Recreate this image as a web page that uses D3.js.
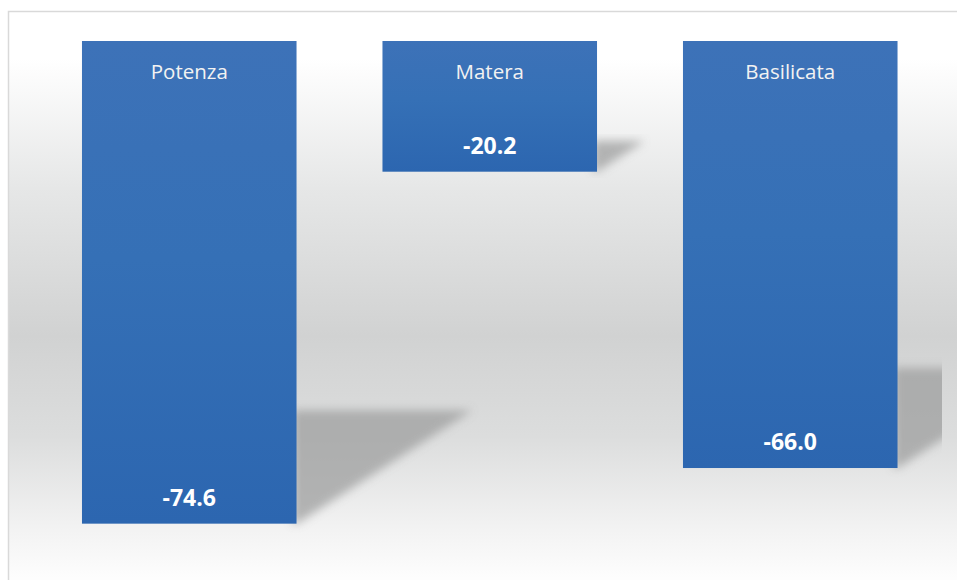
<!DOCTYPE html>
<html>
<head>
<meta charset="utf-8">
<script src="https://cdn.jsdelivr.net/npm/d3@7"></script>
<style>
  body { margin: 0; background: #ffffff; }
  svg { display: block; font-family: "Open Sans", sans-serif; }
</style>
</head>
<body>
<div id="chart"></div>
<script>
// Data
const categories = ["Potenza", "Matera", "Basilicata"];
const values = [-74.6, -20.2, -66.0];

const W = 957, H = 580;
const frame = { x: 8.5, y: 11.5 };
const plot = { left: 32, right: 942, top: 41 };

const svg = d3.select("#chart").append("svg")
  .attr("width", W).attr("height", H);

const defs = svg.append("defs");

// background gradient (white - grey - white)
const bg = defs.append("linearGradient").attr("id", "bg")
  .attr("x1", 0).attr("y1", 0).attr("x2", 0).attr("y2", 1);
[[0, "#ffffff"], [0.08, "#ffffff"], [0.3, "#e6e7e7"], [0.55, "#d1d2d2"], [0.72, "#dcdddd"], [0.88, "#f3f3f3"], [0.96, "#fdfdfd"], [1, "#ffffff"]]
  .forEach(s => bg.append("stop").attr("offset", s[0]).attr("stop-color", s[1]));

// bar gradient
const bar = defs.append("linearGradient").attr("id", "bar")
  .attr("x1", 0).attr("y1", 0).attr("x2", 0).attr("y2", 1);
[[0, "#3d72b8"], [0.45, "#3570b6"], [1, "#2c66b0"]]
  .forEach(s => bar.append("stop").attr("offset", s[0]).attr("stop-color", s[1]));

const blur = defs.append("filter").attr("id", "blur")
  .attr("x", "-20%").attr("y", "-20%").attr("width", "140%").attr("height", "140%");
blur.append("feGaussianBlur").attr("stdDeviation", 5);

defs.append("clipPath").attr("id", "plotclip")
  .append("rect").attr("x", plot.left).attr("y", 0)
  .attr("width", plot.right - plot.left).attr("height", H);

// frame
svg.append("rect")
  .attr("x", frame.x).attr("y", frame.y)
  .attr("width", W + 10).attr("height", H + 10)
  .attr("fill", "url(#bg)")
  .attr("stroke", "#d9d9d9").attr("stroke-width", 1.5);

// scales
const x = d3.scaleBand()
  .domain(categories)
  .range([39, 940.5])
  .paddingInner(0.286)
  .paddingOuter(0.143);

const y = d3.scaleLinear()
  .domain([0, -80])
  .range([plot.top, plot.top + 6.47 * 80]);

// shadows
const shadowG = svg.append("g").attr("clip-path", "url(#plotclip)");
shadowG.selectAll("path")
  .data(values)
  .join("path")
  .attr("d", (v, i) => {
    const r = x(categories[i]) + x.bandwidth();
    const b = y(v);
    const h = (y(v) - y(0)) * 0.235;
    return `M${r - 4},${b - h} L${r + h * 1.55},${b - h} L${r},${b} L${r - 4},${b} Z`;
  })
  .attr("fill", "#9e9f9f")
  .attr("opacity", 0.75)
  .attr("filter", "url(#blur)");

// bars
svg.append("g").selectAll("rect")
  .data(values)
  .join("rect")
  .attr("x", (v, i) => x(categories[i]))
  .attr("y", y(0))
  .attr("width", x.bandwidth())
  .attr("height", v => y(v) - y(0))
  .attr("fill", "url(#bar)");

// category labels
svg.append("g").selectAll("text")
  .data(categories)
  .join("text")
  .attr("x", d => x(d) + x.bandwidth() / 2)
  .attr("y", y(0) + 38)
  .attr("text-anchor", "middle")
  .attr("fill", "#f2f2f2")
  .style("font-size", "20.5px")
  .text(d => d);

// value labels
svg.append("g").selectAll("text")
  .data(values)
  .join("text")
  .attr("x", (v, i) => x(categories[i]) + x.bandwidth() / 2)
  .attr("y", v => y(v) - 18)
  .attr("text-anchor", "middle")
  .attr("fill", "#ffffff")
  .style("font-size", "23px")
  .style("font-weight", "bold")
  .text(v => v.toFixed(1));
</script>
</body>
</html>
